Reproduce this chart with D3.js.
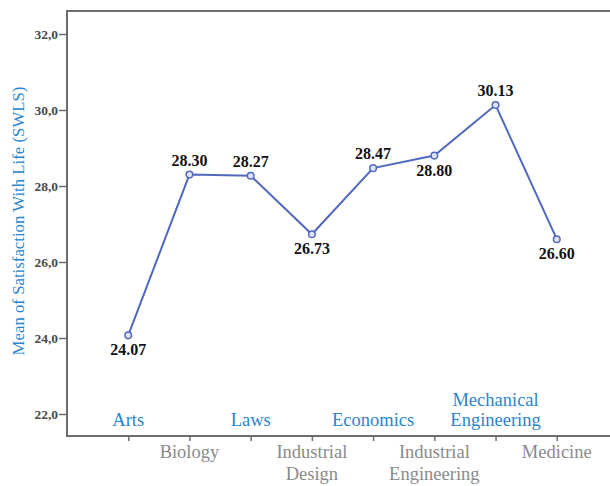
<!DOCTYPE html>
<html>
<head>
<meta charset="utf-8">
<script src="https://cdn.jsdelivr.net/npm/d3@7"></script>
<style>
  body { margin: 0; background: #fff; }
</style>
</head>
<body>
<svg width="610" height="486"></svg>
<script>
// data
var majors = ["Arts", "Biology", "Laws", "Industrial Design", "Economics",
  "Industrial Engineering", "Mechanical Engineering", "Medicine"];
var swls = [24.07, 28.30, 28.27, 26.73, 28.47, 28.80, 30.13, 26.60];
// label above (-1) or below (+1) the point
var labelSide = [1, -1, -1, 1, -1, 1, -1, 1];
var yTicks = [22, 24, 26, 28, 30, 32];

var svg = d3.select("svg");
var padL = 67, padT = 11, padB = 436, padR = 618;
var serif = "Liberation Serif";

var x = d3.scalePoint()
  .domain(majors)
  .range([padL, padR])
  .padding(1);

var y = d3.scaleLinear()
  .domain([22, 32])
  .range([414, 34]);

var axisCol = "#6d6d6d";

// frame: top + left + bottom
svg.append("path")
  .attr("d", "M" + padR + "," + padT + "H" + padL + "V" + padB + "H" + padR)
  .attr("fill", "none")
  .attr("stroke", axisCol)
  .attr("stroke-width", 2);

// y axis ticks
var yAxis = svg.append("g")
  .attr("transform", "translate(" + padL + ",0)")
  .call(d3.axisLeft(y).tickValues(yTicks).tickSize(8).tickPadding(1)
    .tickFormat(function(d) { return d3.format(".1f")(d).replace(".", ","); }));
yAxis.select(".domain").remove();
yAxis.attr("font-family", serif);
yAxis.selectAll("line").attr("stroke", axisCol).attr("stroke-width", 1.5);
yAxis.selectAll("text")
  .attr("fill", "#4a4a4a")
  .attr("font-size", 13.5)
  .attr("font-weight", "bold");

// x ticks
var xAxis = svg.append("g")
  .attr("transform", "translate(0," + padB + ")")
  .call(d3.axisBottom(x).tickSize(5).tickFormat(""));
xAxis.select(".domain").remove();
xAxis.selectAll("line").attr("stroke", axisCol).attr("stroke-width", 1.5);

// category labels: gray ones below the axis, blue ones inside the plot
majors.forEach(function(m, i) {
  var words = m.split(" ");
  var inside = i % 2 === 0;
  var t = svg.append("text")
    .attr("x", x(m))
    .attr("y", inside ? 426 - (words.length - 1) * 20 : 458)
    .attr("text-anchor", "middle")
    .attr("font-family", serif)
    .attr("font-size", 18.5)
    .attr("fill", inside ? "#2a85cc" : "#8a8a8a");
  words.forEach(function(w, k) {
    t.append("tspan").attr("x", x(m)).attr("dy", k ? (inside ? 20 : 22) : 0).text(w);
  });
});

// y title
svg.append("text")
  .attr("transform", "translate(24,221) rotate(-90)")
  .attr("text-anchor", "middle")
  .attr("font-family", serif)
  .attr("font-size", 16.8)
  .attr("fill", "#2a85cc")
  .text("Mean of Satisfaction With Life (SWLS)");

var lineCol = "#5068c0";

svg.append("path")
  .datum(swls)
  .attr("fill", "none")
  .attr("stroke", lineCol)
  .attr("stroke-width", 2)
  .attr("d", d3.line()
    .x(function(d, i) { return x(majors[i]); })
    .y(function(d) { return y(d); }));

svg.selectAll(".pt")
  .data(swls)
  .enter()
  .append("circle")
  .attr("class", "pt")
  .attr("cx", function(d, i) { return x(majors[i]); })
  .attr("cy", function(d) { return y(d); })
  .attr("r", 3.3)
  .attr("fill", "#dfe4f4")
  .attr("stroke", lineCol)
  .attr("stroke-width", 1.5);

svg.selectAll(".lbl")
  .data(swls)
  .enter()
  .append("text")
  .attr("class", "lbl")
  .attr("x", function(d, i) { return x(majors[i]); })
  .attr("y", function(d, i) { return y(d) + (labelSide[i] > 0 ? 20 : -9); })
  .attr("text-anchor", "middle")
  .attr("font-family", serif)
  .attr("font-size", 16)
  .attr("font-weight", "bold")
  .attr("fill", "#111")
  .text(function(d) { return d3.format(".2f")(d); });
</script>
</body>
</html>
